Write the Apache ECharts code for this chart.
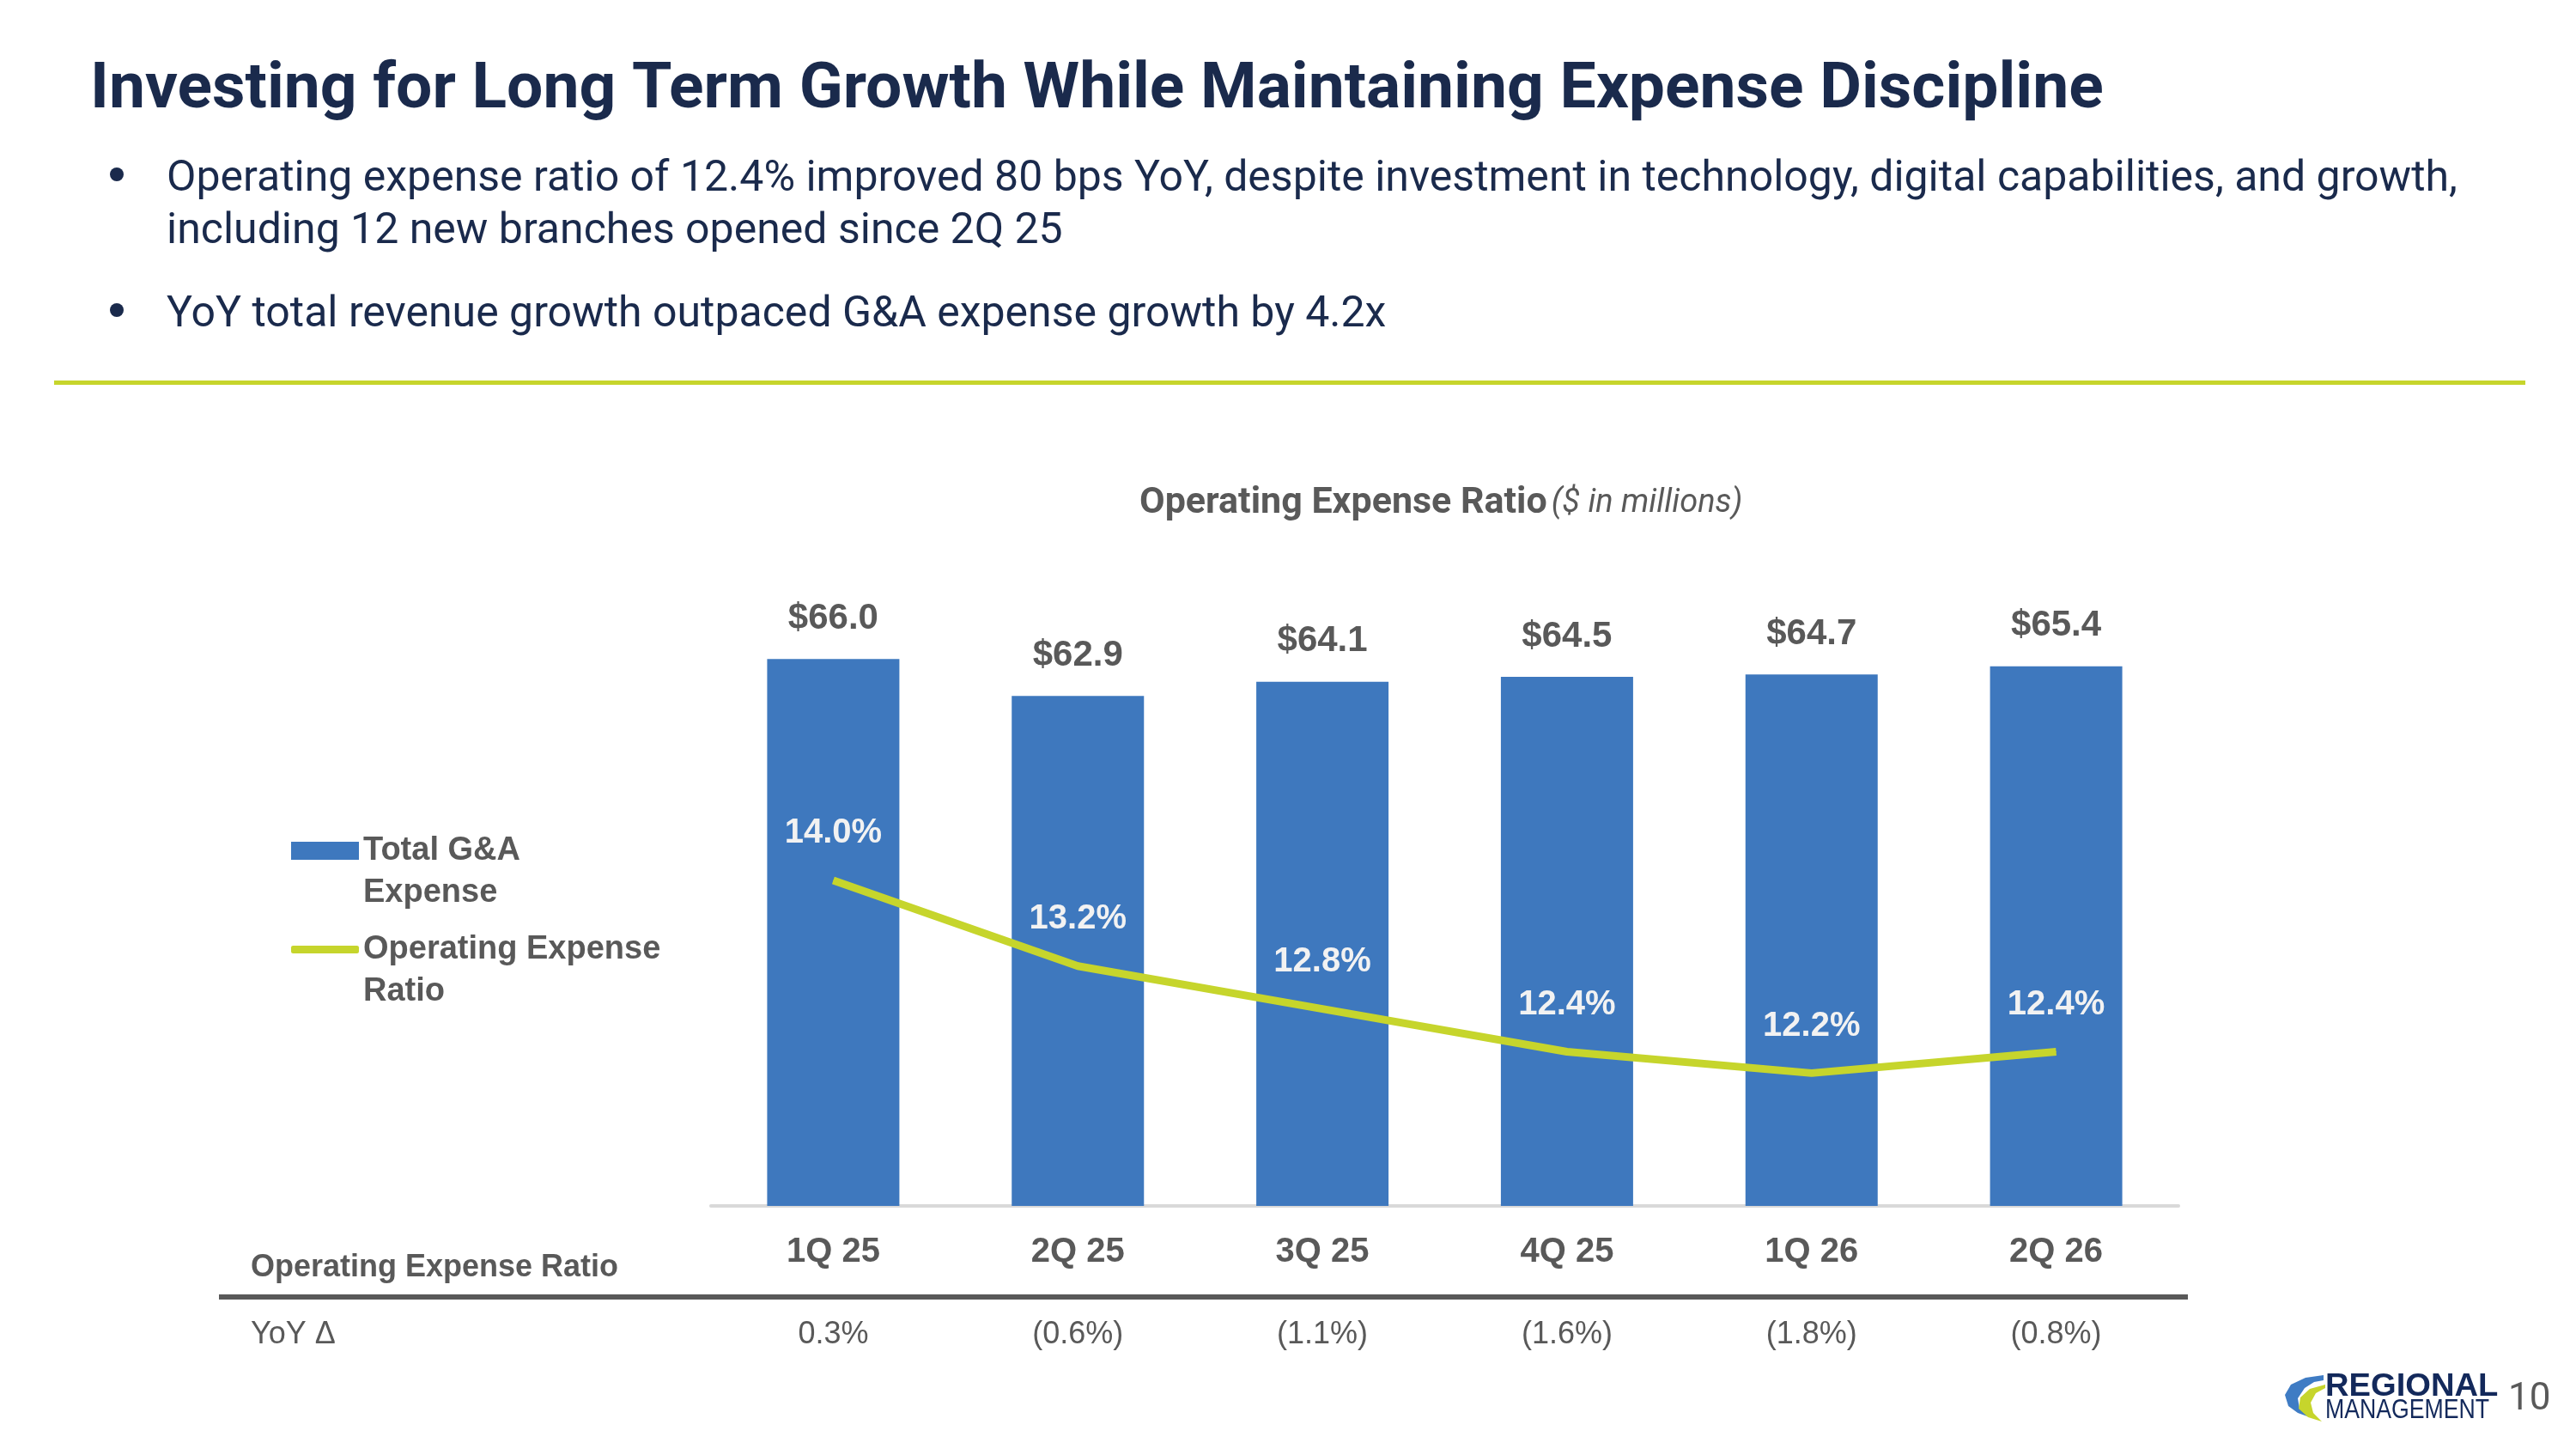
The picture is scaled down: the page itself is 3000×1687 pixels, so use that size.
<!DOCTYPE html>
<html>
<head>
<meta charset="utf-8">
<title>Operating Expense Ratio</title>
<script src="https://cdn.jsdelivr.net/npm/echarts@6/dist/echarts.min.js"></script>
<style>
  html, body { margin: 0; padding: 0; background: #fff; }
  #main { width: 3000px; height: 1687px; }
</style>
</head>
<body>
<div id="main"></div>
<script>
// data
var quarters = ['1Q 25', '2Q 25', '3Q 25', '4Q 25', '1Q 26', '2Q 26'];
var gaExpense = [66.0, 62.9, 64.1, 64.5, 64.7, 65.4];      // $ millions
var opexRatio = [14.0, 13.2, 12.8, 12.4, 12.2, 12.4];      // %
var yoyChange = ['0.3%', '(0.6%)', '(1.1%)', '(1.6%)', '(1.8%)', '(0.8%)'];

var NAVY = '#1a2a4c';
var GRAY = '#595959';
var BLUE = '#3e78be';
var LIME = '#c6d52c';
var CHART_FONT = '"Liberation Sans", Arial, sans-serif';

var chart = echarts.init(document.getElementById('main'), null, { renderer: 'canvas' });

// legend text: empty first line so the icon sits level with the first text line
var legendText = {
  fontFamily: CHART_FONT, fontWeight: 'bold', fontSize: 38, color: GRAY, lineHeight: 49
};

var option = {
  backgroundColor: '#ffffff',
  animation: false,
  title: [
    {
      text: 'Investing for Long Term Growth While Maintaining Expense Discipline',
      left: 100, top: 64,
      textStyle: { fontFamily: 'Roboto', fontWeight: 'bold', fontSize: 75, color: NAVY }
    },
    {
      text: '{b|Operating Expense Ratio} {i|($ in millions)}',
      left: 1322, top: 560,
      textStyle: {
        rich: {
          b: { fontFamily: 'Roboto', fontWeight: 'bold', fontSize: 43, color: GRAY },
          i: { fontFamily: 'Roboto', fontWeight: 'normal', fontStyle: 'italic', fontSize: 38, color: GRAY }
        }
      }
    }
  ],
  legend: [
    {
      data: [{ name: 'Total G&A Expense', icon: 'rect' }],
      left: 339, top: 917, padding: 0,
      itemWidth: 79, itemHeight: 21, itemGap: 0,
      formatter: function () { return '\nTotal G&A\nExpense'; },
      textStyle: legendText
    },
    {
      data: [{ name: 'Operating Expense Ratio', icon: 'roundRect' }],
      left: 339, top: 1032, padding: 0,
      itemWidth: 79, itemHeight: 9, itemGap: 0,
      itemStyle: { color: LIME, borderWidth: 0 },
      formatter: function () { return '\nOperating Expense\nRatio'; },
      textStyle: legendText
    }
  ],
  grid: { left: 828, right: 463, top: 712, bottom: 283, containLabel: false },
  xAxis: [
    {
      type: 'category',
      data: quarters,
      axisLine: { lineStyle: { color: '#d9d9d9', width: 4 } },
      axisTick: { show: false },
      axisLabel: { margin: 34, fontFamily: CHART_FONT, fontWeight: 'bold', fontSize: 40, color: GRAY }
    },
    {
      type: 'category',
      position: 'bottom',
      data: yoyChange,
      axisLine: { show: false },
      axisTick: { show: false },
      axisLabel: { margin: 132, fontFamily: CHART_FONT, fontSize: 36, color: GRAY }
    }
  ],
  yAxis: [
    { type: 'value', min: 20, max: 70, show: false, splitLine: { show: false } },
    { type: 'value', min: 10.96, max: 16.51, show: false, splitLine: { show: false } }
  ],
  series: [
    {
      name: 'Total G&A Expense',
      type: 'bar',
      data: gaExpense,
      barWidth: 154,
      itemStyle: { color: BLUE },
      label: {
        show: true, position: 'top', distance: 26,
        formatter: function (p) { return '$' + p.value.toFixed(1); },
        fontFamily: CHART_FONT, fontWeight: 'bold', fontSize: 42, color: GRAY
      }
    },
    {
      name: 'Operating Expense Ratio',
      type: 'line',
      yAxisIndex: 1,
      data: opexRatio,
      symbol: 'circle',
      symbolSize: 1,
      itemStyle: { color: LIME },
      lineStyle: { color: LIME, width: 9 },
      label: {
        show: true, position: 'top', distance: 34,
        formatter: function (p) { return p.value.toFixed(1) + '%'; },
        fontFamily: CHART_FONT, fontWeight: 'bold', fontSize: 40, color: '#f2f2f2'
      },
      z: 3
    }
  ],
  graphic: [
    // bullets
    { type: 'circle', shape: { cx: 136, cy: 203, r: 8 }, style: { fill: NAVY } },
    { type: 'text', left: 194, top: 179, style: {
        text: 'Operating expense ratio of 12.4% improved 80 bps YoY, despite investment in technology, digital capabilities, and growth,\nincluding 12 new branches opened since 2Q 25',
        fontFamily: 'Roboto', fontSize: 50, lineHeight: 61, fill: NAVY } },
    { type: 'circle', shape: { cx: 136, cy: 361, r: 8 }, style: { fill: NAVY } },
    { type: 'text', left: 194, top: 338, style: {
        text: 'YoY total revenue growth outpaced G&A expense growth by 4.2x',
        fontFamily: 'Roboto', fontSize: 50, lineHeight: 59, fill: NAVY } },
    // lime separator
    { type: 'rect', shape: { x: 63, y: 443, width: 2878, height: 5 }, style: { fill: LIME } },
    // table row headers + rule
    { type: 'text', left: 292, top: 1458, style: { text: 'Operating Expense Ratio', fontFamily: CHART_FONT, fontWeight: 'bold', fontSize: 36, fill: GRAY } },
    { type: 'rect', shape: { x: 255, y: 1507, width: 2293, height: 6 }, style: { fill: GRAY } },
    { type: 'text', left: 292, top: 1536, style: { text: 'YoY Δ', fontFamily: CHART_FONT, fontSize: 36, fill: GRAY } },
    // logo
    { type: 'polygon', shape: { points: [[2706,1601],[2685,1604],[2668,1612],[2661,1624],[2665,1637],[2676,1645],[2690,1650],[2678,1640],[2676,1628],[2684,1616],[2695,1609],[2706,1607]] }, style: { fill: '#3f7cc4' } },
    { type: 'polygon', shape: { points: [[2708,1612],[2690,1617],[2679,1627],[2677,1640],[2688,1650],[2704,1655],[2694,1645],[2691,1633],[2697,1622],[2708,1616]] }, style: { fill: LIME } },
    { type: 'text', x: 2708, y: 1597, scaleX: 1.06, style: { x: 0, y: 0, text: 'REGIONAL', fontFamily: CHART_FONT, fontWeight: 'bold', fontSize: 36, fill: '#13295b' } },
    { type: 'text', x: 2708, y: 1627, scaleX: 0.86, style: { x: 0, y: 0, text: 'MANAGEMENT', fontFamily: CHART_FONT, fontSize: 31, fill: '#13295b' } },
    { type: 'text', left: 2921, top: 1608, style: { text: '10', fontFamily: 'Roboto', fontSize: 44, fill: GRAY } }
  ]
};

chart.setOption(option);
</script>
</body>
</html>
